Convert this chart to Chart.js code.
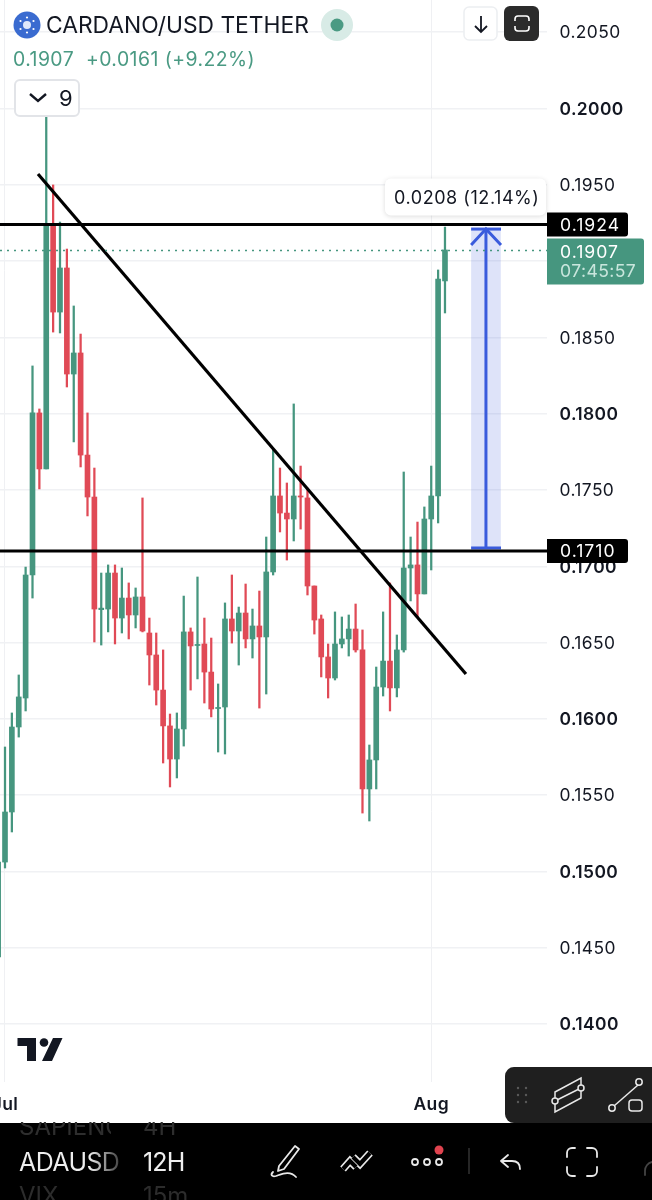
<!DOCTYPE html>
<html><head><meta charset="utf-8">
<script src="https://cdn.jsdelivr.net/npm/chart.js@4/dist/chart.umd.min.js"></script>
<style>
html,body{margin:0;padding:0;background:#fff;width:652px;height:1200px;overflow:hidden;font-family:Inter,"Noto Sans",sans-serif}
#wrap{position:relative;width:652px;height:1200px;overflow:hidden}
canvas{position:absolute;left:0;top:0}
.t{position:absolute;white-space:nowrap;line-height:1}
svg{position:absolute;left:0;top:0}
</style></head><body>
<div id="wrap">
<canvas id="c" width="652" height="1123"></canvas>

<svg width="652" height="1200" viewBox="0 0 652 1200" fill="none">
  <circle cx="27" cy="25" r="13.5" fill="#3a6bd0"/>
  <g fill="#fff"><circle cx="27" cy="25" r="4" fill="#dfe8fa"/><circle cx="27" cy="17.5" r="1.1"/><circle cx="27" cy="32.5" r="1.1"/><circle cx="20.5" cy="21" r="1.1"/><circle cx="33.5" cy="21" r="1.1"/><circle cx="20.5" cy="29" r="1.1"/><circle cx="33.5" cy="29" r="1.1"/></g>
  <circle cx="337" cy="25" r="16" fill="#d8ebe6"/><circle cx="337" cy="25" r="6.5" fill="#4a9a83"/>
  <rect x="15" y="80" width="64" height="36" rx="5" fill="#fff" stroke="#e2e4e8" stroke-width="2"/>
  <path d="M30 94l8 7 8-7" stroke="#131722" stroke-width="2.4"/>
  <rect x="464" y="7" width="33" height="33" rx="5" fill="#fff" stroke="#eceef1" stroke-width="1.5"/>
  <path d="M481 16v16M475 26l6 6 6-6" stroke="#131722" stroke-width="1.8"/>
  <rect x="504" y="6" width="35" height="35" rx="6" fill="#2b2b2b"/>
  <path d="M515 21v-2a3 3 0 0 1 3-3h8a3 3 0 0 1 3 3v2M515 26v2a3 3 0 0 0 3 3h8a3 3 0 0 0 3-3v-2" stroke="#fff" stroke-width="1.6"/>
  <path d="M17.500 1038H36V1061H27V1046H17.500ZM53 1038H62.500L52 1061H42Z" fill="#131722"/><circle cx="44" cy="1042.500" r="4.300" fill="#131722"/>
  <rect x="505" y="1067" width="160" height="56" rx="9" fill="#1f1f1f"/>
  <g fill="#5a5a5a"><circle cx="518" cy="1088" r="1.200"/><circle cx="526" cy="1088" r="1.200"/><circle cx="518" cy="1095" r="1.200"/><circle cx="526" cy="1095" r="1.200"/><circle cx="518" cy="1102" r="1.200"/><circle cx="526" cy="1102" r="1.200"/></g>
  <g stroke="#e8e8e8" stroke-width="1.500"><path d="M555 1092L581 1078V1098L555 1112ZM555 1101L581 1088"/><circle cx="555" cy="1101" r="3" fill="#1f1f1f"/><circle cx="581" cy="1088" r="3" fill="#1f1f1f"/>
  <path d="M614 1106l24-21"/><circle cx="612" cy="1108" r="3.200" fill="#1f1f1f"/><circle cx="639" cy="1082" r="3.200" fill="#1f1f1f"/><rect x="629" y="1100" width="13" height="11" rx="3"/></g>
  <rect x="0" y="1123" width="652" height="77" fill="#000"/>
  <path d="M343 1169L350 1161L356 1167M353 1157L360 1164L370 1153" stroke="#e8e8e8" stroke-width="7.500" stroke-linejoin="miter"/>
  <path d="M343 1169L350 1161L356 1167M353 1157L360 1164L370 1153" stroke="#000" stroke-width="4.200" stroke-linejoin="miter"/>
  <g stroke="#e8e8e8" stroke-width="1.800" stroke-linecap="round" stroke-linejoin="round">
    <path d="M279 1166l16-20 4 3-15 20-6 2zM273 1172c-3 3-1 5 3 4 6-2 14-6 20 1"/>
    <path d="M508 1155l-7 6 7 6M501 1161h11c5 0 8 3 8 8"/>
    <path d="M567 1157v-4a5 5 0 0 1 5-5h3M587 1148h5a5 5 0 0 1 5 5v4M567 1167v4a5 5 0 0 0 5 5h3M587 1176h5a5 5 0 0 0 5-5v-4"/>
    <path d="M645 1175v-4a9 9 0 0 1 7-9" stroke="#444"/>
    <circle cx="415" cy="1162" r="3"/><circle cx="427" cy="1162" r="3"/><circle cx="439" cy="1162" r="3"/>
  </g>
  <circle cx="439" cy="1150" r="4.500" fill="#e0434f"/>
  <path d="M469 1148v26" stroke="#333" stroke-width="1.500"/>
</svg>

<div class="t" style="left:46px;top:14px;font-size:22.8px;color:#131722">CARDANO/USD TETHER</div>
<div class="t" style="left:13px;top:50px;font-size:19.4px;color:#4a9a83;letter-spacing:.45px">0.1907&nbsp; +0.0161 (+9.22%)</div>
<div class="t" style="left:59px;top:87px;font-size:22px;color:#131722">9</div>
<div class="t" style="left:19px;top:1122px;font-size:24px;color:#2e2e2e;width:92px;overflow:hidden;height:18px"><span style="position:relative;top:-7px">SAPIENCE</span></div>
<div class="t" style="left:143px;top:1122px;font-size:24px;color:#2e2e2e;height:18px;overflow:hidden"><span style="position:relative;top:-7px">4H</span></div>
<div class="t" style="left:19px;top:1150px;font-size:25px;width:100px;overflow:hidden;background:linear-gradient(90deg,#eee 70%,#444 100%);-webkit-background-clip:text;background-clip:text;color:transparent;letter-spacing:-.6px;height:26px">ADAUSD</div>
<div class="t" style="left:143px;top:1150px;font-size:25px;color:#eee;letter-spacing:-.8px">12H</div>
<div class="t" style="left:19px;top:1184px;font-size:24px;color:#2c2c2c">VIX</div>
<div class="t" style="left:143px;top:1184px;font-size:24px;color:#2c2c2c">15m</div>
</div>

<script>
// candles: one value per 12H bar, index 0 is the leftmost
const opens  = [.14440,.15062,.15390,.15947,.16137,.16943,.18005,.17638,.19230,.18666,.18955,.18260,.18398,.17729,.17454,.16716,.16720,.16956,.16661,.16792,.16681,.16799,.16563,.16419,.16189,.15954,.15737,.15934,.16570,.16481,.16491,.16307,.16068,.16078,.16655,.16576,.16694,.16524,.16609,.16537,.16963,.17461,.17349,.17310,.17461,.17448,.16871,.16655,.16406,.16268,.16491,.16524,.16589,.16452,.15541,.15731,.16209,.16379,.16203,.16452,.16989,.17009,.16819,.17310,.17461,.18870];
const highs  = [.15062,.15816,.16039,.16288,.16995,.18313,.18031,.19951,.19499,.19256,.19079,.18706,.18522,.18005,.17644,.16956,.17009,.17009,.16989,.16891,.16858,.17448,.16661,.16563,.16452,.16032,.16039,.16805,.16596,.16930,.16661,.16530,.16229,.16760,.16943,.16733,.16884,.16720,.16838,.17192,.17762,.17644,.17546,.18064,.17657,.17513,.16871,.16681,.16491,.16701,.16668,.16681,.16753,.16583,.15829,.16340,.16701,.16891,.16550,.17618,.17192,.17290,.17389,.17657,.18942,.19223];
const lows   = [.14440,.15023,.15259,.15881,.16052,.16792,.17507,.17638,.18535,.18529,.18175,.17815,.17651,.17330,.16504,.16484,.16570,.16491,.16563,.16524,.16596,.16570,.16222,.16091,.15711,.15554,.15613,.15822,.16189,.16262,.16104,.16013,.15783,.15770,.16497,.16353,.16465,.16399,.16071,.16163,.16943,.17225,.17041,.17166,.17244,.16812,.16556,.16275,.16137,.16255,.16465,.16412,.16438,.15383,.15331,.15541,.16150,.16052,.16144,.16438,.16773,.16668,.16819,.16976,.17284,.18660];
const closes = [.15062,.15390,.15947,.16144,.16943,.18005,.17638,.19230,.18666,.18955,.18260,.18398,.17729,.17454,.16720,.16726,.16956,.16661,.16792,.16681,.16799,.16576,.16419,.16189,.15954,.15737,.15934,.16570,.16478,.16488,.16307,.16065,.16075,.16655,.16576,.16694,.16524,.16609,.16537,.16963,.17461,.17349,.17310,.17461,.17454,.16871,.16648,.16406,.16268,.16491,.16524,.16589,.16452,.15541,.15731,.16209,.16379,.16203,.16452,.16989,.17009,.16819,.17310,.17461,.18883,.19073];

const priceTicks = [.205,.2,.195,.19,.185,.18,.175,.17,.165,.16,.155,.15,.145,.14];
const monthTicks = [1,63];
const monthNames = ["Jul","Aug"];

const resistance = 0.1924, support = 0.1710, lastPrice = 0.1907;
const trendX = [5.8,68.05], trendY = [.19571,.16294];
const measureX = 70.96, measureLeft = 68.8, measureRight = 73.15;
const measureLow = .17120, measureHigh = .19210, arrowBase = .19106;
const measureText = "0.0208 (12.14%)", countdown = "07:45:57";

const GREEN="#46967f", RED="#e04a56", BLUE="#3a5bdc";
const xMin=0.2727, xMax=79.84;
const idx = opens.map((_,i)=>i);
const colors = idx.map(i=>closes[i]>=opens[i]?GREEN:RED);

function line(xs,ys,color,width,extra){
  return Object.assign({type:"line",data:xs.map((x,i)=>({x,y:ys[i]})),borderColor:color,borderWidth:width,pointRadius:0,tension:0,order:1,borderCapStyle:"butt"},extra||{});
}

const tagPlugin={id:"tags",
 beforeDraw(ch){ch.ctx.letterSpacing="0.4px";},
 afterDraw(ch){
  const c=ch.ctx,y=ch.scales.y,L=547;
  function box(x,t,w,h,col,r){c.fillStyle=col;c.beginPath();c.roundRect(x,t,w,h,r);c.fill();}
  c.save();
  c.textBaseline="middle";c.textAlign="left";c.font="17.6px Inter";
  const yr=y.getPixelForValue(resistance),ys=y.getPixelForValue(support),yl=y.getPixelForValue(lastPrice);
  c.save();c.shadowColor="rgba(0,0,0,.14)";c.shadowBlur=5;c.shadowOffsetY=1;box(385,yr-46,161,37,"#fff",6);c.restore();
  c.fillStyle="#131722";c.font="18px Inter";c.letterSpacing="0.55px";c.fillText(measureText,394,yr-26);
  c.letterSpacing="1px";c.font="17.6px Inter";
  box(L,yr-12,81,24,"#000",[0,3,3,0]);c.fillStyle="#fff";c.fillText(resistance.toFixed(4),560,yr+1);
  box(L,ys-12,81,24,"#000",[0,3,3,0]);c.fillStyle="#fff";c.fillText(support.toFixed(4),560,ys+1);
  box(L,yl-12,97,46,GREEN,[0,3,3,0]);c.fillStyle="#fff";c.fillText(lastPrice.toFixed(4),560,yl+2);
  c.letterSpacing="0.4px";
  c.fillStyle="#c9e6dd";c.fillText(countdown,560,yl+21);
  c.restore();
}};

new Chart(document.getElementById("c"),{
  data:{datasets:[
    {type:"bar",data:idx.map(i=>({x:i,y:[lows[i],highs[i]]})),backgroundColor:colors,barThickness:1.6,order:4,grouped:false},
    {type:"bar",data:idx.map(i=>({x:i,y:[opens[i],closes[i]]})),backgroundColor:colors,barThickness:5,order:3,grouped:false},
    {type:"bar",data:[{x:measureX,y:[measureLow,measureHigh]}],backgroundColor:"rgba(58,91,220,.17)",barThickness:29,order:5,grouped:false},
    line([xMin,xMax],[lastPrice,lastPrice],GREEN,1.5,{borderDash:[2,5]}),
    line([xMin,xMax],[resistance,resistance],"#000",3),
    line([xMin,xMax],[support,support],"#000",3),
    line(trendX,trendY,"#000",3.2),
    line([measureX,measureX],[measureLow,measureHigh],BLUE,3),
    line([measureLeft,measureRight],[measureHigh,measureHigh],BLUE,3),
    line([measureLeft,measureRight],[measureLow,measureLow],BLUE,3),
    line([measureLeft,measureX,measureRight],[arrowBase,measureHigh,arrowBase],BLUE,3)
  ]},
  options:{
    responsive:false,animation:false,devicePixelRatio:1,
    layout:{padding:0},
    plugins:{legend:{display:false},tooltip:{enabled:false}},
    scales:{
      x:{type:"linear",min:xMin,max:xMax,offset:false,
        grid:{color:"#eff0f3",lineWidth:1,offset:false,drawTicks:false},border:{display:false},
        afterBuildTicks(a){a.ticks=monthTicks.map(v=>({value:v}));},
        afterFit(a){a.height=41;a.paddingLeft=0;a.paddingRight=0;},
        ticks:{autoSkip:false,maxRotation:0,padding:12,color:"#131722",font:{family:"Inter",size:17.5,weight:"600"},
          callback(v){return monthNames[monthTicks.indexOf(v)];}}
      },
      y:{type:"linear",position:"right",min:.20711-.00006553*1082,max:.20711,
        grid:{color:"#f0f1f4",lineWidth:1.5,drawTicks:false},border:{display:false},
        afterBuildTicks(a){a.ticks=priceTicks.map(v=>({value:v}));},
        afterFit(a){a.width=105;a.paddingTop=0;a.paddingBottom=0;},
        ticks:{autoSkip:false,crossAlign:"near",padding:12.5,labelOffset:1,color:"#131722",
          font(ctx){const bold=ctx.tick&&Math.round(ctx.tick.value*1e4)%100===0;return {family:"Inter",size:17.4,weight:bold?"600":"400"};},
          callback(v){return v.toFixed(4);}}
      }
    }
  },
  plugins:[tagPlugin]
});
</script>
</body></html>
